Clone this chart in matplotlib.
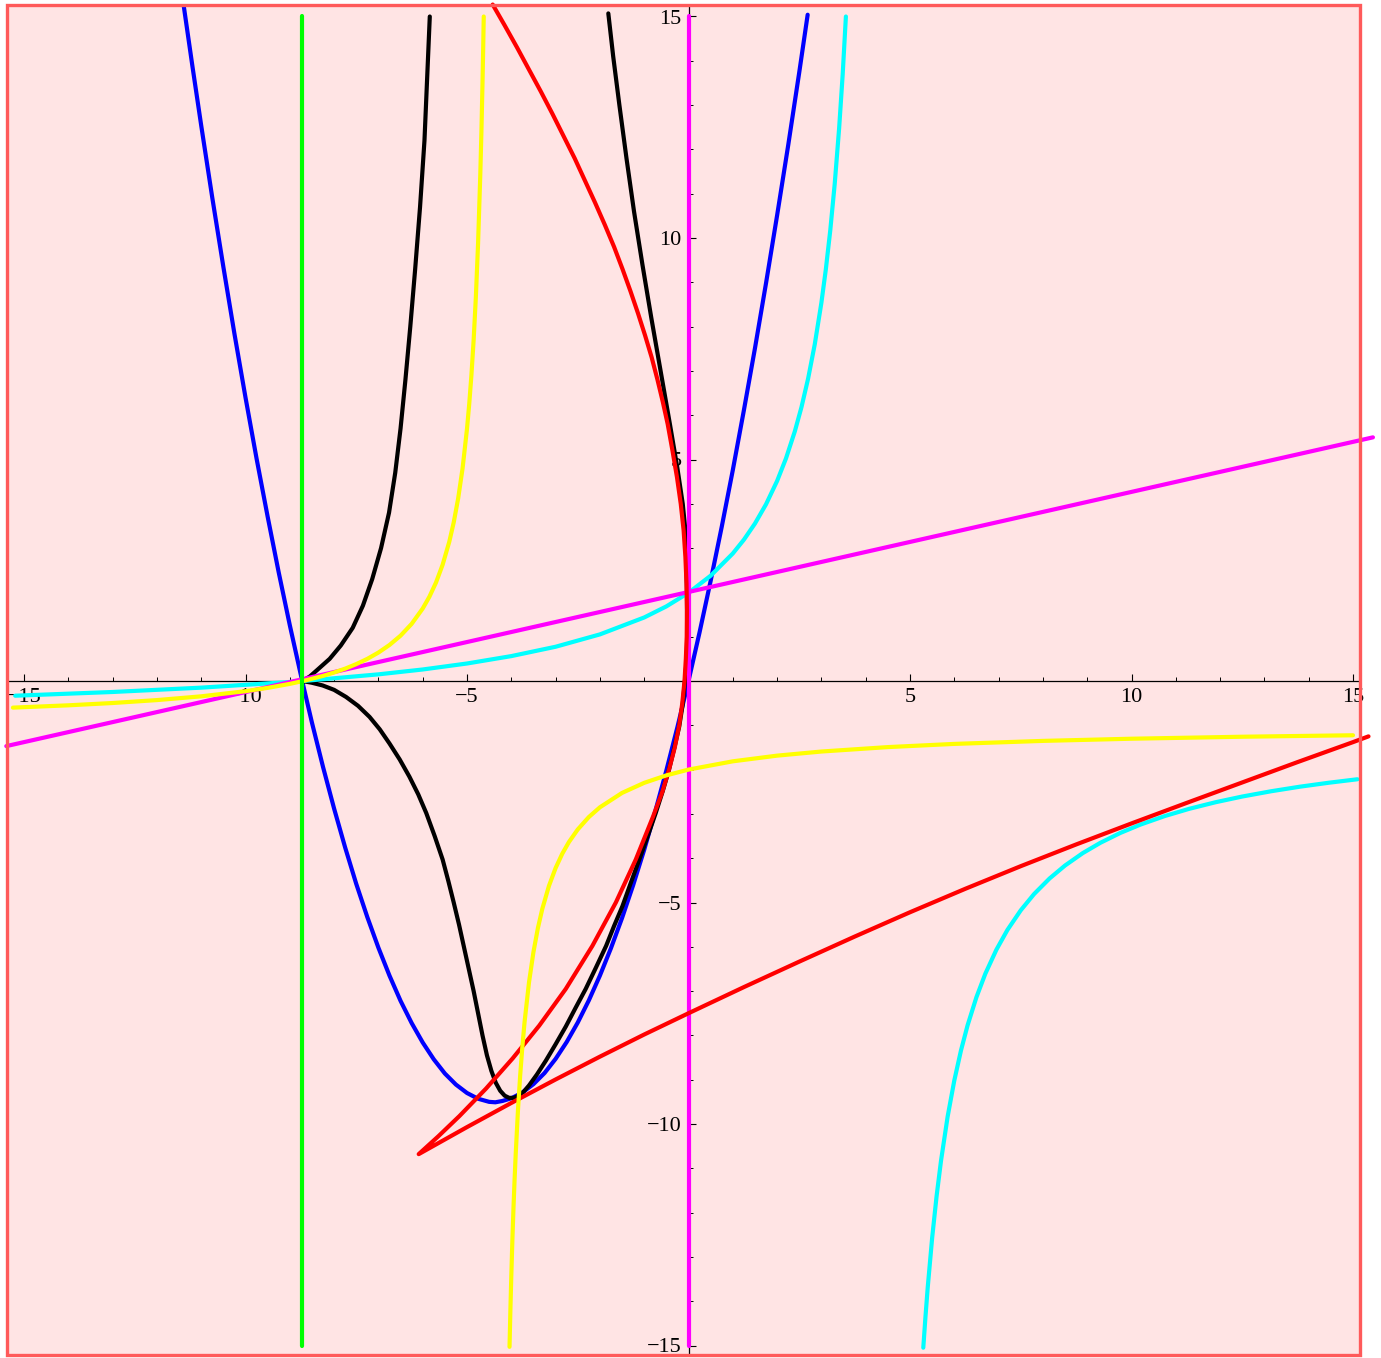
import matplotlib
matplotlib.use("Agg")
import matplotlib.pyplot as plt
from matplotlib.patches import Rectangle

# ---------------- data ----------------
tick_major = [-15, -10, -5, 5, 10, 15]
tick_labels = ["\u221215", "\u221210", "\u22125", "5", "10", "15"]

green_x = [-8.72, -8.72]
green_y = [-15.0, 15.0]

magv_x = [0.02, 0.02]
magv_y = [-15.0, 15.0]

magl_x = [-15.4, 15.45]
magl_y = [-1.47, 5.50]

blue_x = [-11.4, -11.2, -11.0, -10.75, -10.5, -10.25, -10.0, -9.75, -9.5, -9.25, -9.0, -8.72,
          -8.5, -8.25, -8.0, -7.75, -7.5, -7.25, -7.0, -6.75, -6.5, -6.25, -6.0, -5.75,
          -5.5, -5.25, -5.0, -4.75, -4.5, -4.36, -4.2, -4.0, -3.75, -3.5, -3.25, -3.0,
          -2.75, -2.5, -2.25, -2.0, -1.75, -1.5, -1.25, -1.0, -0.75, -0.5, -0.25, 0.0,
          0.25, 0.5, 0.75, 1.0, 1.25, 1.5, 1.75, 2.0, 2.25, 2.5, 2.69]
blue_y = [15.28, 13.89, 12.54, 10.91, 9.35, 7.84, 6.40, 5.02, 3.71, 2.45, 1.26, 0.0,
          -0.94, -1.94, -2.88, -3.76, -4.58, -5.33, -6.02, -6.65, -7.22, -7.72, -8.16, -8.54,
          -8.86, -9.11, -9.30, -9.43, -9.50, -9.51, -9.48, -9.42, -9.29, -9.10, -8.85, -8.53,
          -8.15, -7.71, -7.21, -6.65, -6.03, -5.35, -4.61, -3.81, -2.94, -2.02, -1.04, 0.0,
          1.10, 2.26, 3.48, 4.76, 6.11, 7.51, 8.98, 10.51, 12.09, 13.74, 15.04]

black1_x = [-8.72, -8.55, -8.38, -8.10, -7.85, -7.58, -7.35, -7.14, -6.94, -6.76, -6.62,
            -6.50, -6.39, -6.28, -6.17, -6.06, -5.96, -5.90, -5.84]
black1_y = [0.0, 0.10, 0.25, 0.50, 0.80, 1.20, 1.70, 2.30, 3.00, 3.80, 4.70,
            5.70, 6.80, 8.00, 9.30, 10.70, 12.20, 13.60, 15.0]

black2_x = [-8.72, -8.50, -8.26, -8.00, -7.73, -7.46, -7.20, -6.97, -6.75, -6.52, -6.30,
            -6.10, -5.92, -5.73, -5.55, -5.42, -5.30, -5.18, -5.07, -4.96, -4.85, -4.75,
            -4.65, -4.55, -4.45, -4.35, -4.25, -4.15, -4.05, -3.95, -3.85, -3.72, -3.60,
            -3.42, -3.22, -3.00, -2.77, -2.55, -2.32, -2.09, -1.86, -1.68, -1.49, -1.30,
            -1.11, -0.92, -0.74, -0.58, -0.44, -0.32, -0.21, -0.13, -0.08, -0.04, -0.03,
            -0.035, -0.06, -0.13, -0.25, -0.42, -0.63, -0.84, -1.04, -1.23, -1.40, -1.56,
            -1.70, -1.81]
black2_y = [0.0, -0.04, -0.10, -0.20, -0.36, -0.56, -0.81, -1.09, -1.41, -1.77, -2.16,
            -2.56, -2.98, -3.50, -4.03, -4.52, -5.00, -5.50, -6.00, -6.50, -7.00, -7.50,
            -8.00, -8.45, -8.80, -9.07, -9.25, -9.36, -9.41, -9.41, -9.37, -9.27, -9.13,
            -8.88, -8.57, -8.20, -7.80, -7.38, -6.95, -6.47, -5.98, -5.53, -5.08, -4.55,
            -4.03, -3.50, -2.98, -2.48, -2.00, -1.51, -1.03, -0.52, 0.0, 0.50, 1.00,
            2.00, 3.30, 4.00, 4.80, 5.80, 7.00, 8.20, 9.40, 10.60, 11.80, 13.00,
            14.10, 15.07]

red_x = [-4.42, -4.15, -3.87, -3.60, -3.33, -3.07, -2.82, -2.57, -2.34, -2.11, -1.89,
         -1.68, -1.49, -1.31, -1.14, -0.98, -0.83, -0.70, -0.58, -0.47, -0.36, -0.26,
         -0.175, -0.11, -0.07, -0.045, -0.035, -0.04, -0.06, -0.09, -0.14, -0.21, -0.31,
         -0.44, -0.59, -0.80, -1.19, -1.64, -2.17, -2.77, -3.37, -3.97, -4.57, -5.17,
         -5.65, -6.09, -5.00, -4.00, -3.00, -2.00, -1.00, 0.0, 1.25, 2.5,
         3.75, 5.0, 6.25, 7.5, 8.75, 10.0, 11.25, 12.5, 13.75, 15.0, 15.35]
red_y = [15.27, 14.80, 14.30, 13.80, 13.30, 12.80, 12.30, 11.80, 11.30, 10.80, 10.30,
         9.80, 9.30, 8.80, 8.30, 7.80, 7.30, 6.80, 6.30, 5.80, 5.19, 4.60,
         4.00, 3.40, 2.80, 2.20, 1.60, 1.00, 0.50, 0.00, -0.50, -1.00, -1.50,
         -2.00, -2.50, -3.06, -4.03, -5.00, -5.98, -6.95, -7.78, -8.52, -9.20, -9.82,
         -10.28, -10.68, -10.07, -9.525, -8.995, -8.48, -7.98, -7.50, -6.91, -6.335,
         -5.77, -5.22, -4.69, -4.18, -3.69, -3.215, -2.75, -2.29, -1.83, -1.38, -1.25]

yel1_x = [-15.25, -14.0, -13.0, -12.0, -11.0, -10.0, -9.5, -9.0, -8.7, -8.25, -8.0, -7.75,
          -7.5, -7.25, -7.0, -6.75, -6.5, -6.25, -6.0, -5.85, -5.7, -5.55, -5.4, -5.3,
          -5.2, -5.1, -5.0, -4.95, -4.9, -4.85, -4.8, -4.75, -4.7, -4.675, -4.65, -4.635,
          -4.622]
yel1_y = [-0.601, -0.549, -0.497, -0.431, -0.346, -0.230, -0.155, -0.065, 0.0, 0.115, 0.192,
          0.279, 0.381, 0.500, 0.642, 0.813, 1.023, 1.289, 1.636, 1.900, 2.222, 2.625,
          3.143, 3.579, 4.118, 4.800, 5.692, 6.250, 6.909, 7.700, 8.667, 9.875, 11.43,
          12.385, 13.50, 14.26, 15.0]

yel2_x = [-4.04, -4.02, -4.0, -3.975, -3.95, -3.925, -3.9, -3.85, -3.8, -3.75, -3.7, -3.6,
          -3.5, -3.4, -3.3, -3.15, -3.0, -2.85, -2.7, -2.5, -2.25, -2.0, -1.5, -1.0, -0.5,
          0.0, 1.0, 2.0, 3.0, 4.5, 6.0, 8.0, 10.0, 12.5, 15.0]
yel2_y = [-15.03, -14.18, -13.43, -12.60, -11.875, -11.235, -10.67, -9.70, -8.909, -8.25,
          -7.692, -6.80, -6.118, -5.579, -5.143, -4.625, -4.222, -3.90, -3.636, -3.351,
          -3.071, -2.851, -2.526, -2.299, -2.130, -2.0, -1.813, -1.685, -1.592, -1.492,
          -1.420, -1.352, -1.303, -1.258, -1.225]

cyan1_x = [-15.2, -13.0, -11.0, -9.0, -8.7, -7.0, -6.0, -5.0, -4.0, -3.0, -2.0, -1.0,
           -0.5, 0.0, 0.5, 1.0, 1.25, 1.5, 1.75, 2.0, 2.2, 2.4, 2.55, 2.7, 2.85, 3.0,
           3.1, 3.2, 3.3, 3.4, 3.48, 3.553]
cyan1_y = [-0.332, -0.248, -0.150, -0.022, 0.0, 0.150, 0.260, 0.395, 0.562, 0.773, 1.052,
           1.434, 1.684, 1.991, 2.377, 2.878, 3.189, 3.554, 3.989, 4.515, 5.023, 5.635,
           6.181, 6.826, 7.599, 8.540, 9.291, 10.171, 11.215, 12.474, 13.685, 15.0]

cyan2_x = [5.30, 5.35, 5.4, 5.5, 5.6, 5.7, 5.85, 6.0, 6.15, 6.3, 6.5, 6.7, 6.95, 7.2,
           7.5, 7.8, 8.15, 8.5, 8.9, 9.3, 9.75, 10.2, 10.75, 11.3, 11.9, 12.5, 13.15,
           13.8, 14.45, 15.1]
cyan2_y = [-15.05, -14.34, -13.69, -12.57, -11.63, -10.83, -9.83, -9.018, -8.343, -7.772,
           -7.136, -6.609, -6.066, -5.618, -5.176, -4.810, -4.458, -4.165, -3.885, -3.651,
           -3.429, -3.242, -3.049, -2.886, -2.736, -2.608, -2.489, -2.386, -2.297, -2.218]

# ---------------- figure ----------------
W, H = 1381, 1358
fig = plt.figure(figsize=(W / 100, H / 100), dpi=100)
fig.patch.set_facecolor("white")
left_px, right_px, top_px, bot_px = 7, 1360, 5, 1355
ax = fig.add_axes([left_px / W, (H - bot_px) / H, (right_px - left_px) / W, (bot_px - top_px) / H])
ax.set_facecolor("#FFE4E4")

ox, oy, s = 688.5, 681.0, 44.3
ax.set_xlim((left_px - ox) / s, (right_px - ox) / s)
ax.set_ylim((oy - bot_px) / s, (oy - top_px) / s)

lw = 3.0
kw = dict(lw=lw, solid_capstyle="round", solid_joinstyle="round")
ax.plot(blue_x, blue_y, color="#0000FF", zorder=3, **kw)
ax.plot(black1_x, black1_y, color="black", zorder=4, **kw)
ax.plot(black2_x, black2_y, color="black", zorder=4, **kw)
ax.plot(cyan1_x, cyan1_y, color="#00FFFF", zorder=5, **kw)
ax.plot(cyan2_x, cyan2_y, color="#00FFFF", zorder=5, **kw)
ax.plot(magv_x, magv_y, color="#FF00FF", zorder=6, **kw)
ax.plot(magl_x, magl_y, color="#FF00FF", zorder=6, clip_on=False, **kw)
ax.plot(red_x, red_y, color="#FF0000", zorder=7, clip_on=False, **kw)
ax.plot(yel1_x, yel1_y, color="#FFFF00", zorder=8, **kw)
ax.plot(yel2_x, yel2_y, color="#FFFF00", zorder=8, **kw)
ax.plot(green_x, green_y, color="#00FF00", zorder=9, **kw)

# axes through the origin
for side in ("top", "right"):
    ax.spines[side].set_visible(False)
for side in ("left", "bottom"):
    ax.spines[side].set_position(("data", 0))
    ax.spines[side].set_linewidth(0.9)
    ax.spines[side].set_zorder(2)

serif = ["Liberation Serif", "DejaVu Serif"]
ax.set_xticks(tick_major)
ax.set_xticklabels(tick_labels, fontsize=16, fontfamily=serif)
ax.set_yticks(tick_major)
ax.set_yticklabels(tick_labels, fontsize=16, fontfamily=serif)
ax.set_xticks(range(-15, 16), minor=True)
ax.set_yticks(range(-15, 16), minor=True)
ax.tick_params(which="major", direction="in", length=5, width=0.8, pad=5)
ax.tick_params(which="minor", direction="in", length=2.6, width=0.7)

# outer frame
ax.add_patch(Rectangle((0, 0), 1, 1, transform=ax.transAxes, fill=False,
                       edgecolor="#FF5A5A", lw=2.4, clip_on=False, zorder=10))

fig.savefig("out.png", dpi=100, facecolor="white")
